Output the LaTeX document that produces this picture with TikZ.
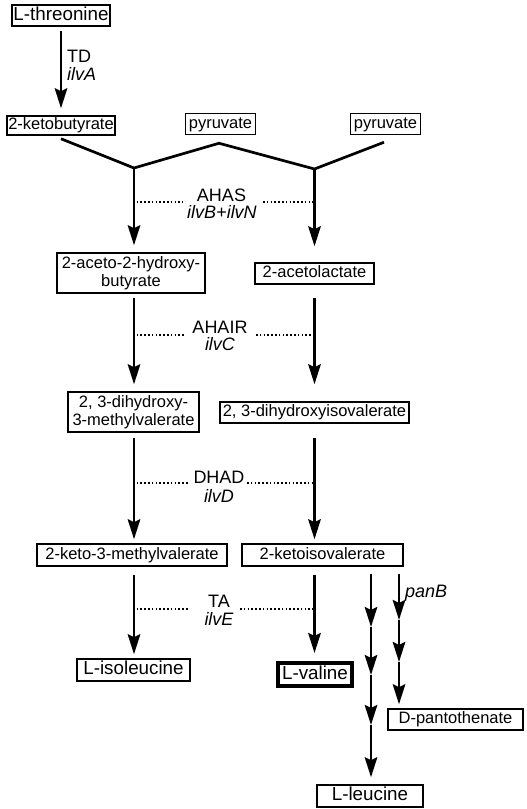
\documentclass[tikz,border=0pt]{standalone}
\usepackage{fontspec}
\setmainfont{Liberation Sans}
\usetikzlibrary{arrows.meta,calc}
\newcommand\cmpfont{\fontsize{16.5}{19}\selectfont}
\newcommand\cmptwofont{\fontsize{16.5}{17.5}\selectfont}
\newcommand\aafont{\fontsize{18.8}{22}\selectfont}
\newcommand\enzfont{\fontsize{18}{19}\selectfont}
\begin{document}
\begin{tikzpicture}[x=1pt,y=-1pt,
  box/.style={draw, line width=1.5pt, inner sep=0pt, font=\cmpfont, text height=11.8pt, text depth=3.6pt},
  boxtwo/.style={draw, line width=1.5pt, inner sep=0pt, font=\cmptwofont, align=center},
  aabox/.style={draw, line width=1.5pt, inner sep=0pt, font=\aafont, text height=13.5pt, text depth=4pt},
  arr/.style={line width=2.7pt, -{Stealth[length=20pt,width=12.5pt,inset=3pt]}},
  link/.style={line width=2.7pt, line join=miter},
  dots/.style={line width=1.6pt, dash pattern=on 1.6pt off 2.2pt},
  enz/.style={font=\enzfont, anchor=base, inner sep=0pt},
]
\useasboundingbox (0,0) rectangle (527,809);

% compounds
\node[aabox, minimum width=98pt, minimum height=21pt] (thr) at (61,15.5) {L-threonine};
\node[box, minimum width=108pt, minimum height=19pt] (kb) at (61,125.5) {2-ketobutyrate};
\node[box, minimum width=70pt, minimum height=21pt] (pyrA) at (220.5,124) {pyruvate};
\node[box, minimum width=70pt, minimum height=21pt] (pyrB) at (385.5,124) {pyruvate};
\node[boxtwo, minimum width=148pt, minimum height=40pt] (aceto) at (131,273) {2-aceto-2-hydroxy-\\butyrate};
\node[box, minimum width=119pt, minimum height=21pt] (acl) at (314.5,273.5) {2-acetolactate};
\node[boxtwo, minimum width=131pt, minimum height=40pt] (dihm) at (133.5,412) {2, 3-dihydroxy-\\3-methylvalerate};
\node[box, minimum width=189pt, minimum height=21pt] (dhiv) at (314.5,412.5) {2, 3-dihydroxyisovalerate};
\node[box, minimum width=190pt, minimum height=22pt] (kmv) at (132,555) {2-keto-3-methylvalerate};
\node[box, minimum width=161pt, minimum height=22pt] (kiv) at (322.5,555) {2-ketoisovalerate};
\node[aabox, minimum width=113pt, minimum height=22pt] (ile) at (133.5,670) {L-isoleucine};
\node[aabox, line width=4pt, minimum width=74pt, minimum height=23pt] (val) at (315,674.5) {L-valine};
\node[box, minimum width=135pt, minimum height=21pt] (pan) at (455.5,719.5) {D-pantothenate};
\node[aabox, minimum width=106pt, minimum height=22pt] (leu) at (370,796) {L-leucine};

% enzyme labels
\node[enz, anchor=base west] (lTD) at (67,62) {TD};
\node[enz, anchor=base west] (lilvA) at (67,80) {\itshape ilvA};
\node[enz] (lAHAS) at (221.5,201) {AHAS};
\node[enz] (lilvBN) at (222,218) {\itshape ilvB+ilvN};
\node[enz] (lAHAIR) at (220,333) {AHAIR};
\node[enz] (lilvC) at (220,350) {\itshape ilvC};
\node[enz] (lDHAD) at (219,483) {DHAD};
\node[enz] (lilvD) at (219,502) {\itshape ilvD};
\node[enz] (lTA) at (219,607) {TA};
\node[enz] (lilvE) at (219,625) {\itshape ilvE};
\node[enz, anchor=base west] (lpanB) at (405,597) {\itshape panB};

% helper coordinates
\coordinate (colL) at (134,0);
\coordinate (colR) at (314.5,0);
\coordinate (jL) at (134,168);
\coordinate (jR) at (314.5,169);

% condensation lines
\draw[link] ([yshift=-3pt]kb.south) -- (jL) -- ([xshift=-1.5pt,yshift=-8pt]pyrA.south) -- (jR) -- ([xshift=-1.5pt,yshift=-7pt]pyrB.south);

% main arrows
\draw[arr, shorten <=4pt, shorten >=7pt] (thr.south) -- (kb.north);
\draw[arr, shorten >=7pt] (jL) -- (aceto.north -| jL);
\draw[arr, shorten >=16pt] (jR) -- (acl.north -| jR);
\draw[arr, shorten <=4pt, shorten >=7pt] (aceto.south -| colL) -- (dihm.north -| colL);
\draw[arr, shorten <=13pt, shorten >=17pt] (acl.south -| colR) -- (dhiv.north -| colR);
\draw[arr, shorten <=5pt, shorten >=4pt] (dihm.south -| colL) -- (kmv.north -| colL);
\draw[arr, shorten <=14pt, shorten >=4pt] (dhiv.south -| colR) -- (kiv.north -| colR);
\draw[arr, shorten <=8pt, shorten >=4pt] (kmv.south -| colL) -- (ile.north -| colL);
\draw[arr, shorten <=8pt, shorten >=8pt] (kiv.south -| colR) -- (val.north -| colR);

% leucine branch
\coordinate (leuA) at (371,627);
\coordinate (leuB) at (371,675);
\coordinate (leuC) at (371,725);
\draw[arr, shorten <=7pt] (kiv.south -| leuA) -- (leuA);
\draw[arr] (leuA) -- (leuB);
\draw[arr] (leuB) -- (leuC);
\draw[arr, shorten >=7pt] (leuC) -- (leu.north -| leuC);

% pantothenate branch
\coordinate (panA) at (399,620);
\coordinate (panB) at (399,662);
\draw[arr, shorten <=7pt] (kiv.south -| panA) -- (panA);
\draw[arr] (panA) -- (panB);
\draw[arr, shorten >=4pt] (panB) -- (pan.north -| panB);

% dotted enzyme lines
\coordinate (dA1) at (136.5,202); \coordinate (dA2) at (183,202);
\coordinate (dA3) at (263,202);   \coordinate (dA4) at (313,202);
\coordinate (dB1) at (136.5,335); \coordinate (dB2) at (184,335);
\coordinate (dB3) at (256,335);   \coordinate (dB4) at (313,335);
\coordinate (dC1) at (136.5,483); \coordinate (dC2) at (188,483);
\coordinate (dC3) at (247,483);   \coordinate (dC4) at (313,483);
\coordinate (dD1) at (136.5,609); \coordinate (dD2) at (188,609);
\coordinate (dD3) at (240,609);   \coordinate (dD4) at (313,609);
\draw[dots] (dA1) -- (dA2); \draw[dots] (dA3) -- (dA4);
\draw[dots] (dB1) -- (dB2); \draw[dots] (dB3) -- (dB4);
\draw[dots] (dC1) -- (dC2); \draw[dots] (dC3) -- (dC4);
\draw[dots] (dD1) -- (dD2); \draw[dots] (dD3) -- (dD4);
\end{tikzpicture}
\end{document}
